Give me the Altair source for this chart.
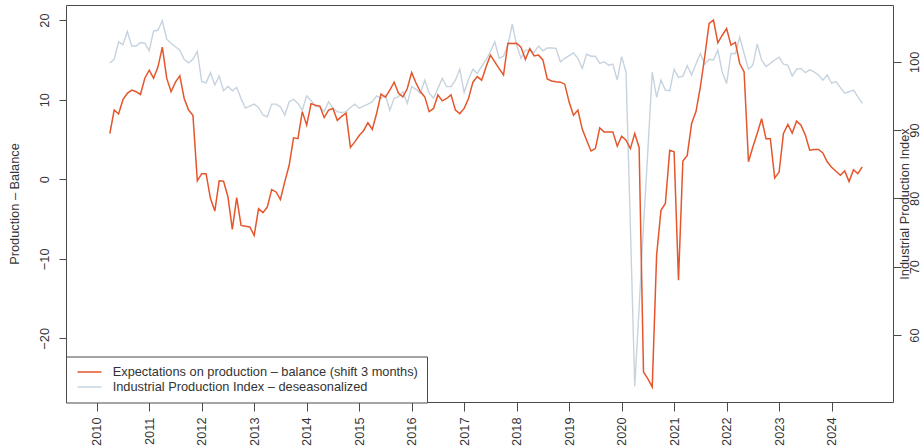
import altair as alt
import pandas as pd

# Monthly series, first observation April 2010
start_year, start_month = 2010, 4

# Expectations on production - balance (already shifted by 3 months)
expectations = [
    5.75, 8.7, 8.2, 10.0, 10.8, 11.2, 11.0, 10.65, 12.7, 13.7, 12.7, 14.1,
    16.6, 12.7, 11.0, 12.2, 13.0, 10.15, 8.7, 8.05, -0.2, 0.7, 0.7, -2.4,
    -4.0, -0.2, -0.25, -2.2, -6.3, -2.3, -5.8, -5.9, -6.0, -7.05, -3.7, -4.2,
    -3.5, -1.3, -1.6, -2.55, -0.3, 1.75, 5.2, 5.1, 8.5, 6.8, 9.5, 9.3,
    9.2, 7.75, 8.7, 8.9, 7.4, 7.9, 8.3, 4.0, 4.7, 5.5, 6.1, 7.1,
    6.25, 8.3, 10.7, 10.3, 11.2, 12.2, 10.8, 10.35, 11.4, 13.4, 12.1, 11.0,
    10.35, 8.5, 8.9, 10.6, 9.85, 10.15, 10.6, 8.7, 8.25, 8.9, 10.15, 12.2,
    12.9, 12.45, 14.1, 15.6, 14.75, 13.9, 13.1, 17.1, 17.05, 17.1, 16.6, 15.05,
    16.4, 15.5, 15.6, 15.0, 12.6, 12.35, 12.25, 12.2, 11.95, 9.7, 8.05, 8.7,
    6.3, 4.9, 3.55, 3.85, 6.45, 5.95, 5.95, 5.95, 4.15, 5.4, 4.9, 3.85,
    5.75, 4.0, -24.2, -25.1, -26.1, -9.55, -3.9, -3.05, 3.65, 3.45, -12.7, 2.3,
    3.0, 7.0, 8.5, 11.6, 15.4, 19.6, 20.0, 17.15, 18.1, 18.95, 16.85, 17.2,
    14.55, 13.5, 2.2, 4.05, 5.75, 7.6, 5.1, 5.1, 0.15, 0.9, 5.75, 6.9,
    5.8, 7.3, 6.8, 5.55, 3.65, 3.75, 3.75, 3.3, 2.2, 1.5, 1.0, 0.5,
    1.05, -0.3, 1.2, 0.7, 1.55,
]

# Industrial Production Index - deseasonalized
ipi = [
    99.8, 100.35, 102.9, 102.5, 104.4, 102.3, 102.3, 102.8, 102.7, 101.6, 104.5, 104.6,
    106.0, 103.3, 102.7, 102.2, 101.7, 100.35, 99.85, 100.35, 101.5, 97.1, 96.9, 98.4,
    96.6, 97.9, 95.75, 96.4, 95.75, 96.25, 94.6, 93.2, 93.5, 93.8, 93.3, 92.2,
    91.95, 93.8, 93.8, 93.4, 92.2, 94.15, 94.5, 93.9, 92.9, 95.0, 94.3, 93.5,
    93.4, 92.7, 94.15, 93.2, 92.7, 92.55, 92.7, 93.3, 93.8, 93.2, 93.5, 93.8,
    94.15, 95.0, 94.65, 95.1, 92.9, 94.65, 94.9, 95.6, 93.9, 96.35, 95.95, 95.4,
    97.3, 95.4, 94.65, 96.1, 97.55, 96.35, 96.35, 97.3, 98.9, 95.5, 97.4, 98.9,
    98.3, 99.3, 100.25, 101.5, 102.9, 100.5, 100.8, 102.45, 105.5, 102.45, 100.5, 101.7,
    101.7, 101.4, 102.3, 101.6, 102.0, 102.0, 101.95, 100.0, 100.5, 100.9, 101.3, 100.5,
    99.0, 101.1, 100.8, 100.8, 99.75, 100.0, 99.5, 99.65, 97.3, 100.75, 98.5, 76.0,
    52.5, 64.0, 76.0, 87.0, 98.5, 94.8, 97.3, 95.85, 95.75, 98.9, 97.7, 97.9,
    99.4, 98.05, 99.65, 101.2, 99.65, 100.35, 100.25, 101.7, 98.5, 96.8, 101.2, 101.2,
    103.6, 101.2, 98.9, 99.5, 102.6, 100.25, 99.3, 99.75, 100.25, 100.65, 99.65, 99.5,
    97.9, 98.9, 99.0, 98.4, 98.8, 98.5, 98.05, 97.3, 98.05, 96.85, 97.1, 96.25,
    95.4, 95.6, 95.85, 94.9, 93.9,
]

series_names = [
    "Expectations on production \u2013 balance (shift 3 months)",
    "Industrial Production Index \u2013 deseasonalized",
]
series_colors = ["#e5562c", "#c6d3df"]

year_ticks = list(range(2010, 2025))
left_ticks = [-20, -10, 0, 10, 20]
right_ticks = [60, 70, 80, 90, 100]

n = len(expectations)
t = [start_year + (start_month - 1 + k) / 12 for k in range(n)]
df = pd.DataFrame({
    "t": t + t,
    "value": expectations + ipi,
    "series": [series_names[0]] * n + [series_names[1]] * n,
})

FONT = "Liberation Sans"
FS = 12.8
INK = "#333333"
FRAME = "#4a4a4a"

x = alt.X(
    "t:Q",
    title=None,
    scale=alt.Scale(domain=[2009.415, 2025.17], nice=False, zero=False),
    axis=alt.Axis(
        values=year_ticks, format="d",
        labelAngle=270, labelAlign="right", labelBaseline="middle",
        tickSize=9, labelPadding=6,
    ),
)

color = alt.Color(
    "series:N",
    scale=alt.Scale(domain=series_names, range=series_colors),
    legend=alt.Legend(
        title=None, orient="none", legendX=0, legendY=351.5,
        direction="vertical",
        fillColor="white", strokeColor=FRAME, padding=8.5, cornerRadius=0,
        symbolType="M-2,0H2", symbolSize=144, symbolStrokeWidth=1.5,
        symbolOffset=8, labelOffset=16.2, rowPadding=1,
        labelFont=FONT, labelFontSize=FS, labelColor=INK, labelLimit=400,
    ),
)

ipi_line = alt.Chart(df).transform_filter(
    alt.FieldEqualPredicate(field="series", equal=series_names[1])
).mark_line(strokeWidth=1.4).encode(
    x=x,
    y=alt.Y(
        "value:Q",
        title="Industrial Production Index",
        scale=alt.Scale(domain=[50.2, 108.3], nice=False, zero=False),
        axis=alt.Axis(
            orient="right", values=right_ticks,
            labelAngle=270, labelAlign="center", labelBaseline="alphabetic",
            tickSize=8, labelPadding=17.3,
            titleAngle=270, titleAlign="center", titleBaseline="alphabetic",
            titleX=15.5, titleY=198.5,
        ),
    ),
    color=color,
)

exp_line = alt.Chart(df).transform_filter(
    alt.FieldEqualPredicate(field="series", equal=series_names[0])
).mark_line(strokeWidth=1.5).encode(
    x=x,
    y=alt.Y(
        "value:Q",
        title="Production \u2013 Balance",
        scale=alt.Scale(domain=[-28.0, 21.9], nice=False, zero=False),
        axis=alt.Axis(
            orient="left", values=left_ticks,
            labelAngle=270, labelAlign="center", labelBaseline="alphabetic",
            tickSize=7, labelPadding=10.7,
            titleAngle=270, titleAlign="center", titleBaseline="alphabetic",
            titleX=-47.7, titleY=198.5,
        ),
    ),
    color=color,
)

chart = alt.layer(ipi_line, exp_line).resolve_scale(
    y="independent"
).properties(
    width=827, height=397,
    padding={"left": 66, "top": 5, "right": 29, "bottom": 46},
    autosize=alt.AutoSizeParams(type="none"),
    background="white",
).configure_view(
    stroke=FRAME, strokeWidth=1,
).configure_axis(
    domain=False, grid=False,
    labelFont=FONT, labelFontSize=FS, labelColor=INK,
    titleFont=FONT, titleFontSize=FS, titleColor=INK, titleFontWeight="normal",
    tickColor=FRAME, tickWidth=1,
)

chart.save("out.html", embed_options={"renderer": "svg", "actions": False})
